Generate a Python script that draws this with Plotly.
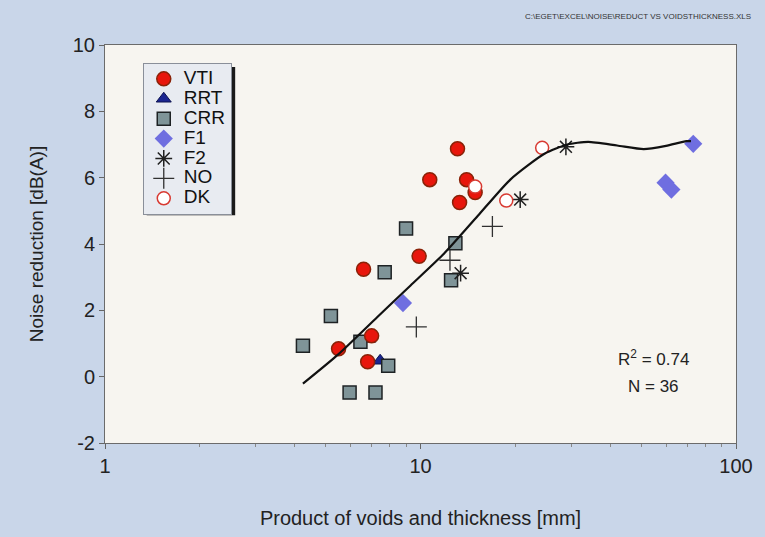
import plotly.graph_objects as go

# Measured noise reduction vs. product of voids and thickness, per surface type
vti_x = [13.1, 10.7, 14.0, 14.9, 13.3, 9.9, 6.6, 7.0, 5.5, 6.8]
vti_y = [6.87, 5.94, 5.94, 5.55, 5.25, 3.63, 3.24, 1.23, 0.84, 0.45]

rrt_x = [6.83, 7.45]
rrt_y = [1.14, 0.48]

crr_x = [9.0, 12.9, 7.7, 12.5, 5.2, 4.24, 6.45, 7.9, 5.96, 7.2]
crr_y = [4.47, 4.02, 3.15, 2.91, 1.83, 0.93, 1.05, 0.33, -0.48, -0.48]

f1_x = [8.8, 59.8, 62.4, 73.2]
f1_y = [2.22, 5.85, 5.64, 7.02]

f2_x = [28.9, 20.7, 13.4]
f2_y = [6.93, 5.34, 3.12]

no_x = [16.9, 12.4, 9.7]
no_y = [4.53, 3.51, 1.50]

dk_x = [24.3, 18.7, 14.9]
dk_y = [6.90, 5.31, 5.73]

# Trend curve
fit_x = [4.24, 5.5, 7.3, 9.3, 11.9, 15.2, 19.3, 24.7, 29.2, 34.0, 42.0, 51.0, 60.0, 69.6, 72.0]
fit_y = [-0.21, 0.68, 1.80, 2.75, 3.72, 4.85, 5.95, 6.72, 7.00, 7.08, 6.97, 6.86, 6.96, 7.10, 7.10]

y_ticks = [-2, 0, 2, 4, 6, 8, 10]
y_tick_labels = ["-2", "0", "2", "4", "6", "8", "10"]
x_ticks = [1, 10, 100]
x_tick_labels = ["1", "10", "100"]
x_minor_ticks = [2, 3, 4, 5, 6, 7, 8, 9, 20, 30, 40, 50, 60, 70, 80, 90]

r2_text = "R<sup>2</sup> = 0.74"
n_text = "N = 36"
file_path = "C:\\EGET\\EXCEL\\NOISE\\REDUCT VS VOIDSTHICKNESS.XLS"


def big(label):
    return '<span style="font-size:19px">' + label + "</span>"


fig = go.Figure()

fig.add_trace(go.Scatter(
    x=rrt_x, y=rrt_y, mode="markers", name=big("RRT"), legendrank=2,
    marker=dict(symbol="triangle-up", size=13, color="#1b2590",
                line=dict(color="#0c1250", width=1))))
fig.add_trace(go.Scatter(
    x=crr_x, y=crr_y, mode="markers", name=big("CRR"), legendrank=3,
    marker=dict(symbol="square", size=13, color="#7f9498",
                line=dict(color="#1e2224", width=1.5))))
fig.add_trace(go.Scatter(
    x=vti_x, y=vti_y, mode="markers", name=big("VTI"), legendrank=1,
    marker=dict(symbol="circle", size=14, color="#e8160c",
                line=dict(color="#8a2208", width=1.5))))
fig.add_trace(go.Scatter(
    x=f1_x, y=f1_y, mode="markers", name=big("F1"), legendrank=4,
    marker=dict(symbol="diamond", size=14, color="#6f6ee0",
                line=dict(color="#6f6ee0", width=0))))
fig.add_trace(go.Scatter(
    x=f2_x, y=f2_y, mode="markers", name=big("F2"), legendrank=5,
    marker=dict(symbol="asterisk-open", size=14, color="#202020",
                line=dict(color="#202020", width=1.5))))
fig.add_trace(go.Scatter(
    x=no_x, y=no_y, mode="markers", name=big("NO"), legendrank=6,
    marker=dict(symbol="cross-thin-open", size=15, color="#303030",
                line=dict(color="#303030", width=1.3))))
fig.add_trace(go.Scatter(
    x=dk_x, y=dk_y, mode="markers", name=big("DK"), legendrank=7,
    marker=dict(symbol="circle", size=13, color="#ffffff",
                line=dict(color="#d83a32", width=1.5))))
fig.add_trace(go.Scatter(
    x=fit_x, y=fit_y, mode="lines", showlegend=False, hoverinfo="skip",
    line=dict(color="#111111", width=2.2, shape="spline", smoothing=0.6)))

narrow = "Liberation Sans Narrow, Liberation Sans, Arial"
axis_font = dict(family=narrow, size=20, color="#222222")

# legend box in pixels; the drop shadow sits just behind it
lg_left, lg_top, lg_right, lg_bottom = 143, 63, 233, 213
plot_l, plot_b, plot_w, plot_h = 105, 445, 635, 400


def px_x(v):
    return (v - plot_l) / plot_w


def px_y(v):
    return (plot_b - v) / plot_h


fig.update_layout(
    width=765, height=537,
    margin=dict(l=105, r=25, t=45, b=92),
    paper_bgcolor="#c9d6e9",
    plot_bgcolor="#f7f5f0",
    font=dict(family="Liberation Sans, Arial", color="#222222"),
    legend=dict(
        x=px_x(lg_left), y=px_y(lg_top), xanchor="left", yanchor="top",
        bgcolor="#e8ebf1", bordercolor="#8a8f99", borderwidth=1,
        font=dict(family="Liberation Sans, Arial", size=13, color="#111111"),
        itemwidth=30, tracegroupgap=0,
    ),
    shapes=[
        dict(type="rect", xref="paper", yref="paper", layer="above",
             x0=px_x(lg_left + 4), x1=px_x(lg_right + 3),
             y0=px_y(lg_bottom + 3), y1=px_y(lg_top + 4),
             fillcolor="#1a1a1a", line=dict(width=0)),
    ],
    xaxis=dict(
        type="log", range=[0, 2],
        tickvals=x_ticks, ticktext=x_tick_labels,
        ticks="outside", ticklen=5, tickcolor="#666666",
        minor=dict(tickvals=x_minor_ticks, ticks="outside", ticklen=3,
                   tickcolor="#888888", showgrid=False),
        showgrid=False, zeroline=False,
        showline=True, linecolor="#6b6b6b", linewidth=1, mirror=True,
        tickfont=axis_font,
        title=dict(text="Product of voids and thickness [mm]",
                   font=dict(family=narrow, size=20, color="#222222"),
                   standoff=34),
    ),
    yaxis=dict(
        range=[-2, 10], tickvals=y_ticks, ticktext=y_tick_labels,
        ticks="outside", ticklen=5, tickcolor="#666666",
        showgrid=False, zeroline=False,
        showline=True, linecolor="#6b6b6b", linewidth=1, mirror=True,
        tickfont=axis_font,
        title=dict(text="Noise reduction [dB(A)]",
                   font=dict(family="Liberation Sans, Arial", size=19, color="#222222"),
                   standoff=24),
    ),
    annotations=[
        dict(text=r2_text, xref="paper", yref="paper", x=px_x(657), y=px_y(360),
             showarrow=False, xanchor="center", yanchor="middle",
             font=dict(family=narrow, size=17, color="#222222")),
        dict(text=n_text, xref="paper", yref="paper", x=px_x(657), y=px_y(388),
             showarrow=False, xanchor="center", yanchor="middle",
             font=dict(family=narrow, size=17, color="#222222")),
        dict(text=file_path, xref="paper", yref="paper", x=px_x(757), y=px_y(16),
             showarrow=False, xanchor="right", yanchor="middle",
             font=dict(family=narrow, size=8, color="#333333")),
    ],
)

fig.write_html("out.html")
